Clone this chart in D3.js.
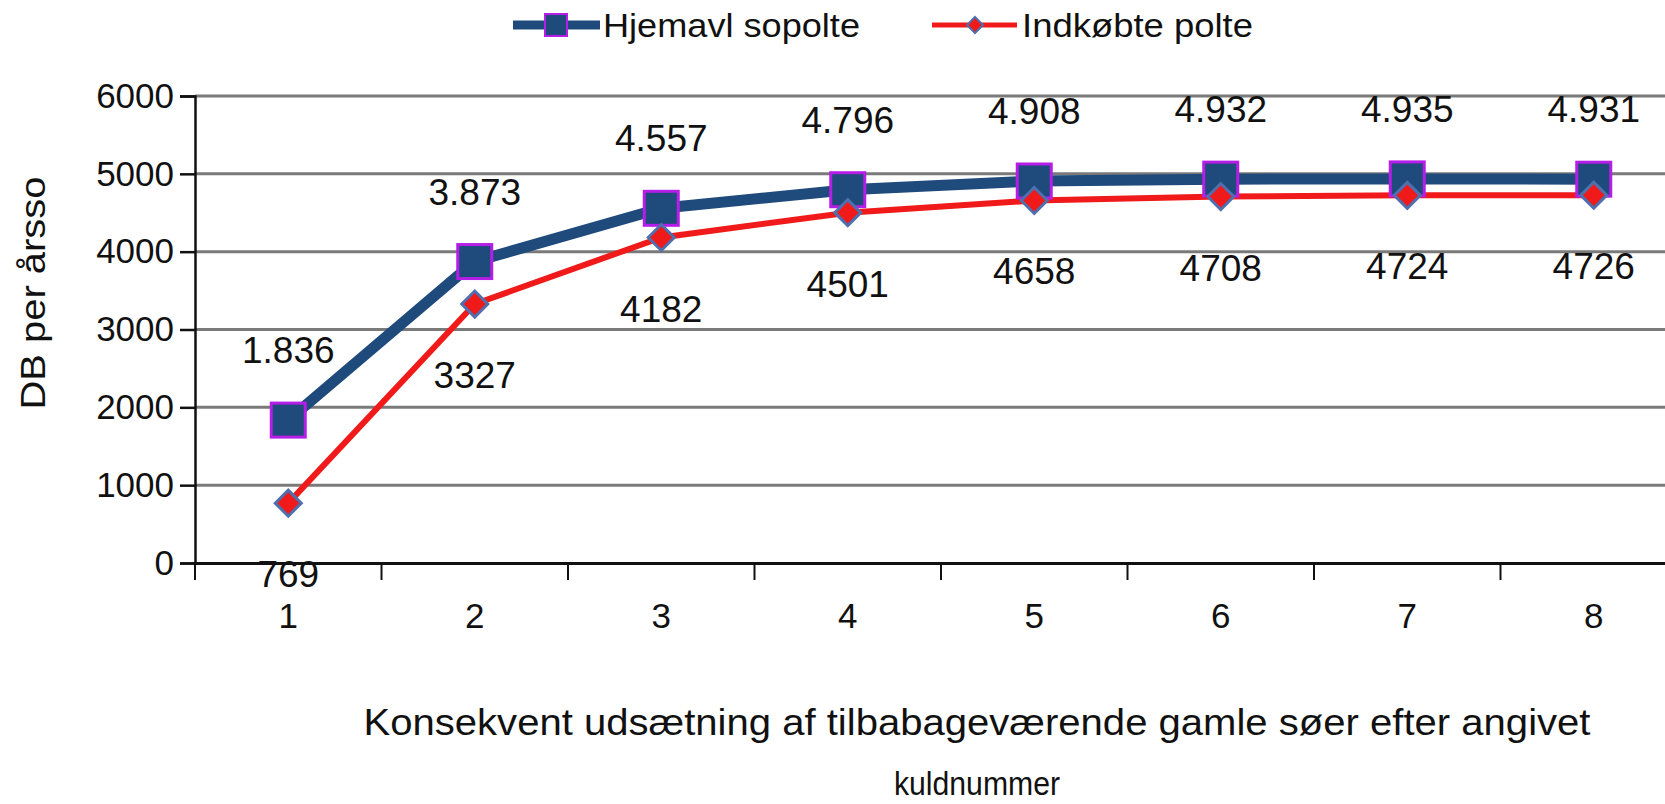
<!DOCTYPE html>
<html><head><meta charset="utf-8">
<script src="https://cdn.jsdelivr.net/npm/d3@7"></script>
<style>body{margin:0;background:#fff}svg{display:block}text{font-family:"Liberation Sans",Arial,sans-serif;fill:#111}</style>
</head><body><svg id="c" width="1665" height="804"></svg>
<script>
const categories = [1,2,3,4,5,6,7,8];
const hjemavl = [1836,3873,4557,4796,4908,4932,4935,4931];
const indkobte = [769,3327,4182,4501,4658,4708,4724,4726];
const yTicks = [0,1000,2000,3000,4000,5000,6000];
const seriesNames = ["Hjemavl sopolte","Indkøbte polte"];
const xTitle1 = "Konsekvent udsætning af tilbabageværende gamle søer efter angivet";
const xTitle2 = "kuldnummer";
const yTitle = "DB per årsso";

const svg = d3.select("#c");
const x = d3.scaleBand().domain(categories).range([195,1687]).padding(0);
const y = d3.scaleLinear().domain([0,6000]).range([563,96]);
const cx = d => x(d)+x.bandwidth()/2;

// gridlines
svg.append("g").selectAll("line").data(yTicks.filter(t=>t>0)).join("line")
  .attr("x1",195).attr("x2",1687).attr("y1",d=>y(d)).attr("y2",d=>y(d))
  .attr("stroke","#7a7a7a").attr("stroke-width",3);

// y axis
const ya = svg.append("g").attr("transform","translate(195,0)")
  .call(d3.axisLeft(y).tickValues(yTicks).tickSize(15).tickPadding(6).tickFormat(d3.format("d")));
ya.select(".domain").attr("stroke","#111").attr("stroke-width",2.5);
ya.selectAll(".tick line").attr("stroke","#111").attr("stroke-width",2.5);
ya.selectAll(".tick text").attr("font-size",35).attr("font-family","Liberation Sans, Arial, sans-serif").attr("fill","#111");

// x axis
const xa = svg.append("g").attr("transform","translate(0,563)")
  .call(d3.axisBottom(x).tickSize(0).tickPadding(40));
xa.select(".domain").attr("stroke","#111").attr("stroke-width",3);
xa.selectAll(".tick text").attr("font-size",35).attr("font-family","Liberation Sans, Arial, sans-serif").attr("fill","#111");
// boundary ticks
svg.append("g").selectAll("line").data(categories).join("line")
  .attr("x1",d=>x(d)).attr("x2",d=>x(d)).attr("y1",563).attr("y2",580)
  .attr("stroke","#111").attr("stroke-width",2);

// lines
const line = vals => d3.line().x((d,i)=>cx(categories[i])).y(d=>y(d))(vals);
svg.append("path").attr("d",line(hjemavl)).attr("fill","none").attr("stroke","#1f4a7c").attr("stroke-width",11).attr("stroke-linejoin","round");
svg.append("path").attr("d",line(indkobte)).attr("fill","none").attr("stroke","#f01a1a").attr("stroke-width",6).attr("stroke-linejoin","round");

// markers
const sq = 34;
svg.append("g").selectAll("rect").data(hjemavl).join("rect")
  .attr("x",(d,i)=>cx(categories[i])-sq/2).attr("y",d=>y(d)-sq/2).attr("width",sq).attr("height",sq)
  .attr("fill","#1f4a7c").attr("stroke","#b41ee6").attr("stroke-width",3);
const dm = 13;
svg.append("g").selectAll("path").data(indkobte).join("path")
  .attr("d",(d,i)=>{const X=cx(categories[i]),Y=y(d);return `M${X},${Y-dm}L${X+dm},${Y}L${X},${Y+dm}L${X-dm},${Y}Z`;})
  .attr("fill","#f01a1a").attr("stroke","#4f6fae").attr("stroke-width",3);

// data labels
const fmtDot = d => d3.format(",")(d).replace(/,/g,".");
svg.append("g").selectAll("text").data(hjemavl).join("text")
  .attr("x",(d,i)=>cx(categories[i])).attr("y",d=>y(d)-57).attr("text-anchor","middle")
  .attr("font-size",37).text(d=>fmtDot(d));
svg.append("g").selectAll("text").data(indkobte).join("text")
  .attr("x",(d,i)=>cx(categories[i])).attr("y",d=>y(d)+84).attr("text-anchor","middle")
  .attr("font-size",37).text(d=>d);

// axis titles
svg.append("text").attr("x",977).attr("y",735).attr("text-anchor","middle").attr("font-size",36)
  .attr("textLength",1227).attr("lengthAdjust","spacingAndGlyphs").text(xTitle1);
svg.append("text").attr("x",977).attr("y",795).attr("text-anchor","middle").attr("font-size",34)
  .attr("textLength",166).attr("lengthAdjust","spacingAndGlyphs").text(xTitle2);
svg.append("text").attr("transform","translate(45,293) rotate(-90)").attr("text-anchor","middle").attr("font-size",35)
  .attr("textLength",233).attr("lengthAdjust","spacingAndGlyphs").text(yTitle);

// legend
const lg = svg.append("g");
lg.append("line").attr("x1",513).attr("x2",600).attr("y1",25).attr("y2",25).attr("stroke","#1f4a7c").attr("stroke-width",9);
lg.append("rect").attr("x",545).attr("y",14).attr("width",22).attr("height",22).attr("fill","#1f4a7c").attr("stroke","#b41ee6").attr("stroke-width",2);
lg.append("text").attr("x",603).attr("y",37).attr("font-size",34).attr("textLength",257).attr("lengthAdjust","spacingAndGlyphs").text(seriesNames[0]);
lg.append("line").attr("x1",932).attr("x2",1017).attr("y1",25).attr("y2",25).attr("stroke","#f01a1a").attr("stroke-width",5);
lg.append("path").attr("d","M975,17L983,25L975,33L967,25Z").attr("fill","#f01a1a").attr("stroke","#4f6fae").attr("stroke-width",2);
lg.append("text").attr("x",1022).attr("y",37).attr("font-size",34).attr("textLength",231).attr("lengthAdjust","spacingAndGlyphs").text(seriesNames[1]);
</script></body></html>
